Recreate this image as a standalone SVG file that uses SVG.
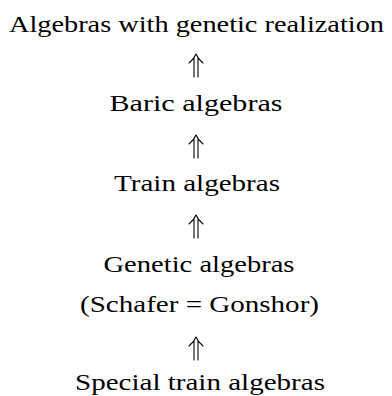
<svg xmlns="http://www.w3.org/2000/svg" width="392" height="396" viewBox="0 0 392 396">
  <style>
    .t { font-family: "Liberation Serif", "DejaVu Serif", serif; font-size: 23px; fill: #000; text-anchor: middle; }
    .a { fill: none; stroke: #000; stroke-width: 1.1; stroke-linecap: round; stroke-linejoin: round; }
  </style>
  <rect width="392" height="396" fill="#fff"/>
  <g id="connectors">
    <g id="imp1" transform="translate(196,54)"><path class="a" d="M-2,3 V23 M2,3 V23 M-7,9 Q-2,5 0,0 Q2,5 7,9"/></g>
    <g id="imp2" transform="translate(196,135)"><path class="a" d="M-2,3 V23 M2,3 V23 M-7,9 Q-2,5 0,0 Q2,5 7,9"/></g>
    <g id="imp3" transform="translate(196,215)"><path class="a" d="M-2,3 V23 M2,3 V23 M-7,9 Q-2,5 0,0 Q2,5 7,9"/></g>
    <g id="imp4" transform="translate(196,337)"><path class="a" d="M-2,3 V23 M2,3 V23 M-7,9 Q-2,5 0,0 Q2,5 7,9"/></g>
  </g>
  <g id="genetic-realization"><text class="t" x="196.5" y="31.5" textLength="375" lengthAdjust="spacingAndGlyphs">Algebras with genetic realization</text></g>
  <g id="baric"><text class="t" x="196" y="111" textLength="173" lengthAdjust="spacingAndGlyphs">Baric algebras</text></g>
  <g id="train"><text class="t" x="197" y="191" textLength="166" lengthAdjust="spacingAndGlyphs">Train algebras</text></g>
  <g id="genetic">
    <text class="t" x="199" y="272" textLength="191" lengthAdjust="spacingAndGlyphs">Genetic algebras</text>
    <text class="t" x="199.5" y="312" textLength="239" lengthAdjust="spacingAndGlyphs">(Schafer = Gonshor)</text>
  </g>
  <g id="special-train"><text class="t" x="200" y="390" textLength="250" lengthAdjust="spacingAndGlyphs">Special train algebras</text></g>
</svg>
